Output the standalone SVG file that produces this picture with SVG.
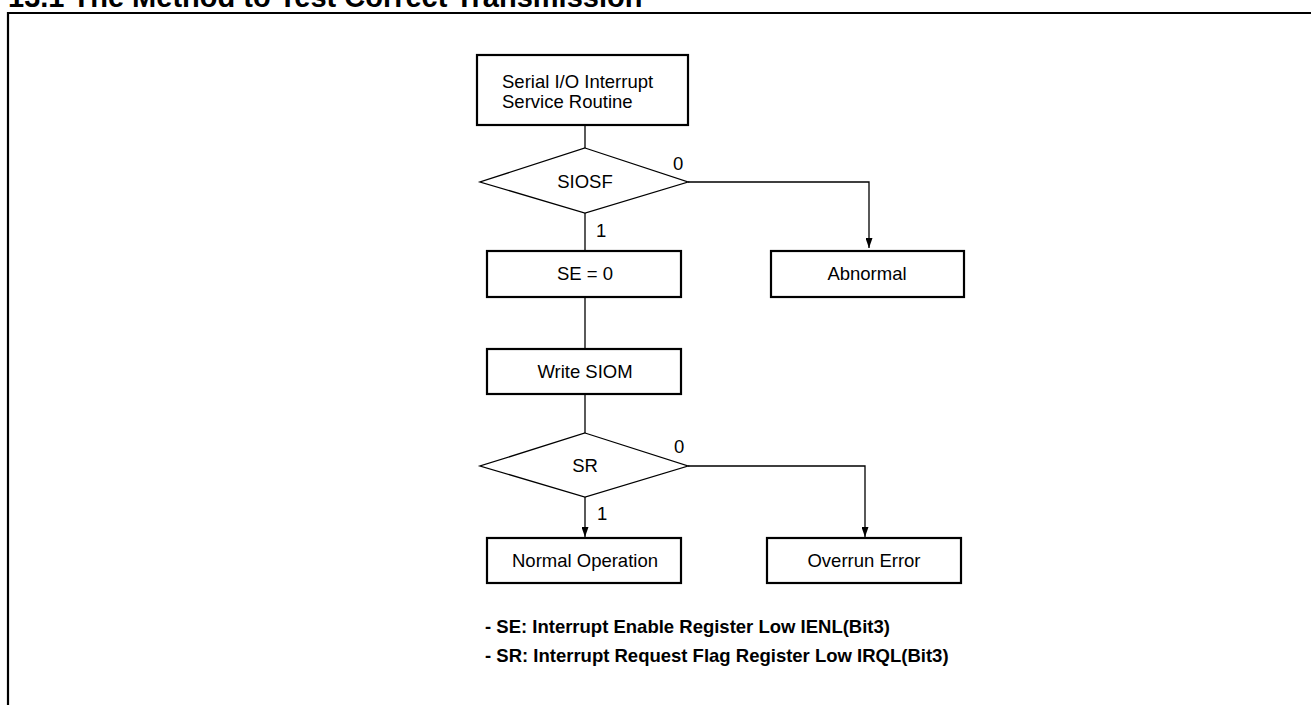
<svg xmlns="http://www.w3.org/2000/svg" width="1311" height="705" viewBox="0 0 1311 705">
<style>
text{font-family:"Liberation Sans",Arial,Helvetica,sans-serif;fill:#000}
.t{font-size:18.5px}
.c{text-anchor:middle}
.b{font-weight:bold}
.box{fill:#fff;stroke:#000;stroke-width:2.2}
.dia{fill:#fff;stroke:#000;stroke-width:1.3}
.ln{fill:none;stroke:#000;stroke-width:1.3}
</style>
<defs>
<marker id="ah" viewBox="0 0 10 7" refX="10" refY="3.5" markerWidth="10" markerHeight="7" markerUnits="userSpaceOnUse" orient="auto">
<path d="M0,0 L10,3.5 L0,7 z" fill="#000"/>
</marker>
</defs>
<rect width="1311" height="705" fill="#fff"/>
<text class="b" x="8" y="7" style="font-size:29px">13.1 The Method to Test Correct Transmission</text>
<path d="M8,705 V13 H1311" fill="none" stroke="#000" stroke-width="2.2"/>

<g id="connectors">
<path class="ln" d="M585,125 V148"/>
<path class="ln" d="M585,213 V251"/>
<path class="ln" d="M688,182 H869 V248" marker-end="url(#ah)"/>
<path class="ln" d="M585,297 V349"/>
<path class="ln" d="M585,394 V433"/>
<path class="ln" d="M585,497 V537" marker-end="url(#ah)"/>
<path class="ln" d="M688,466 H865 V537" marker-end="url(#ah)"/>
<text class="t" x="673" y="170">0</text>
<text class="t" x="596" y="237">1</text>
<text class="t" x="674" y="453">0</text>
<text class="t" x="597" y="520">1</text>
</g>

<g id="start">
<rect class="box" x="477" y="55" width="211" height="70"/>
<text class="t" x="502" y="88">Serial I/O Interrupt</text>
<text class="t" x="502" y="108">Service Routine</text>
</g>

<g id="siosf">
<polygon class="dia" points="585,148 688,182 585,213 480,182"/>
<text class="t c" x="585" y="188">SIOSF</text>
</g>

<g id="se0">
<rect class="box" x="487" y="251" width="194" height="46"/>
<text class="t c" x="585" y="280">SE = 0</text>
</g>

<g id="abnormal">
<rect class="box" x="771" y="251" width="193" height="46"/>
<text class="t c" x="867" y="280">Abnormal</text>
</g>

<g id="writesiom">
<rect class="box" x="487" y="349" width="194" height="45"/>
<text class="t c" x="585" y="378">Write SIOM</text>
</g>

<g id="sr">
<polygon class="dia" points="585,433 688,466 585,497 480,466"/>
<text class="t c" x="585" y="472">SR</text>
</g>

<g id="normal">
<rect class="box" x="487" y="538" width="194" height="45"/>
<text class="t c" x="585" y="567">Normal Operation</text>
</g>

<g id="overrun">
<rect class="box" x="767" y="538" width="194" height="45"/>
<text class="t c" x="864" y="567">Overrun Error</text>
</g>

<g id="notes">
<text class="t b" x="485" y="633">- SE: Interrupt Enable Register Low IENL(Bit3)</text>
<text class="t b" x="485" y="662">- SR: Interrupt Request Flag Register Low IRQL(Bit3)</text>
</g>
</svg>
